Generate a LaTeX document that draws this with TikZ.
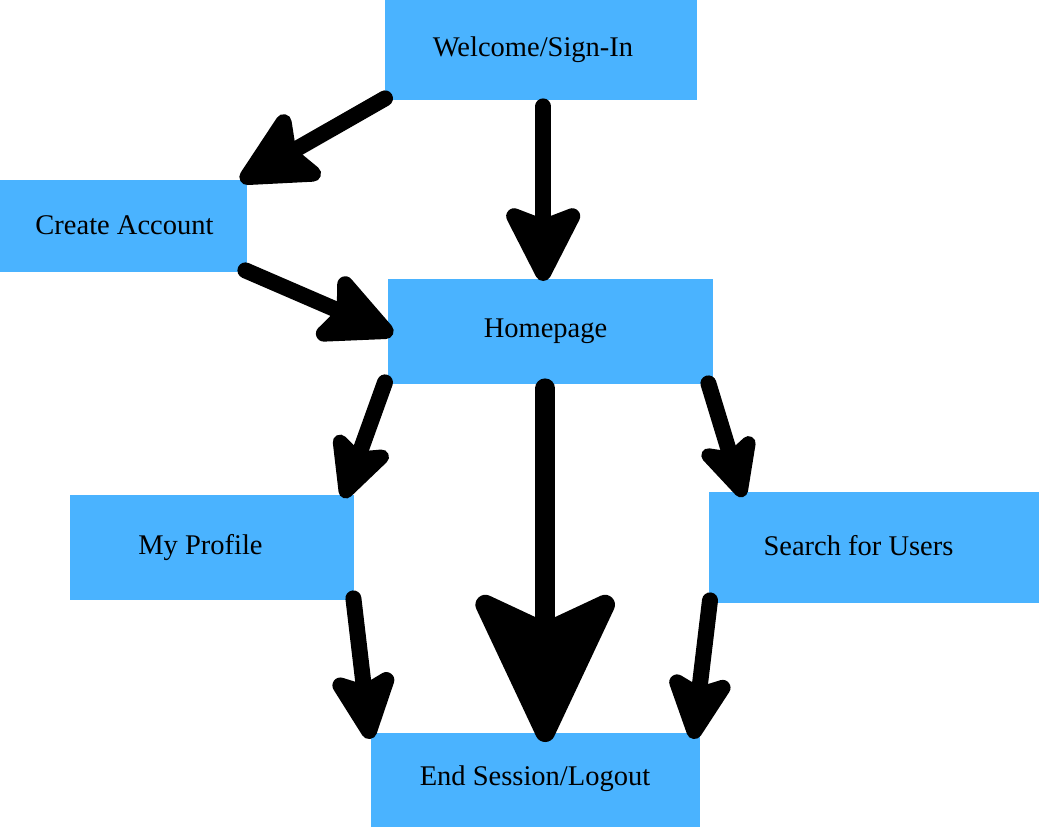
\documentclass[tikz,border=0pt]{standalone}
\usepackage{fontspec}
\setmainfont{Liberation Serif}
\usetikzlibrary{arrows.meta}
\definecolor{boxblue}{RGB}{74,179,255}
\begin{document}
\begin{tikzpicture}[x=1pt,y=-1pt,
  box/.style={fill=boxblue,draw=none,inner sep=0pt,anchor=north west},
  lbl/.style={font=\fontsize{28.5}{30}\selectfont,anchor=base,inner sep=0pt},
  arr/.style 2 args={line width=16pt,line cap=round,-{Stealth[length=#1pt,width=#2pt,inset=16pt,round]}},
  bigarr/.style={line width=20pt,line cap=round,-{Stealth[length=170pt,width=158pt,inset=36pt,round]}}]
\useasboundingbox (0,0) rectangle (1039,827);
% boxes
\node[box,minimum width=312pt,minimum height=100pt] (welcome) at (385,0) {};
\node[box,minimum width=247pt,minimum height=92pt] (create) at (0,180) {};
\node[box,minimum width=325pt,minimum height=105pt] (home) at (388,279) {};
\node[box,minimum width=284pt,minimum height=105pt] (profile) at (70,495) {};
\node[box,minimum width=330pt,minimum height=111pt] (search) at (709,492) {};
\node[box,minimum width=329pt,minimum height=94pt] (logout) at (371,733) {};
% labels
\node[lbl] (twelcome) at (533,56) {Welcome/Sign-In};
\node[lbl] (tcreate) at (124.5,234) {Create Account};
\node[lbl] (thome) at (545.5,337) {Homepage};
\node[lbl] (tprofile) at (200.5,554) {My Profile};
\node[lbl] (tsearch) at (858.5,555) {Search for Users};
\node[lbl] (tlogout) at (535,785) {End Session/Logout};
% connectors
\draw[arr={90}{89}] ([shift={(0,-2)}]welcome.south west) -- ([shift={(-7,1)}]create.north east);
\draw[arr={88}{88}] ([shift={(2,6)}]welcome.south) -- ([shift={(-7.5,2)}]home.north);
\draw[arr={88}{83}] ([shift={(-2,-2)}]create.south east) -- ([shift={(5,2.5)}]home.west);
\draw[arr={75}{73}] ([shift={(-3,-2)}]home.south west) -- ([shift={(-11,3)}]profile.north east);
\draw[arr={73}{70}] ([shift={(-5,-1)}]home.south east) -- ([shift={(34,5)}]search.north west);
\draw[bigarr] ([shift={(-5.5,4)}]home.south) -- ([shift={(9.5,9)}]logout.north);
\draw[arr={82}{76}] ([shift={(-1,-2)}]profile.south east) -- ([shift={(-1,6)}]logout.north west);
\draw[arr={79}{76}] ([shift={(1,-3)}]search.south west) -- ([shift={(-7,6)}]logout.north east);
\end{tikzpicture}
\end{document}
